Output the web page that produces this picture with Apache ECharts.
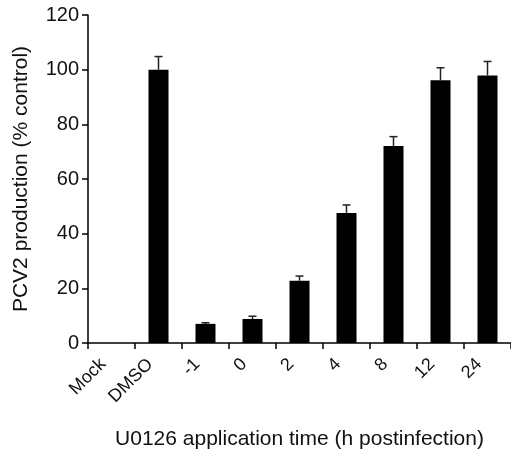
<!DOCTYPE html>
<html><head><meta charset="utf-8">
<script src="https://cdn.jsdelivr.net/npm/echarts@6/dist/echarts.min.js"></script>
<style>html,body{margin:0;padding:0;background:#fff}#c{width:511px;height:455px}</style>
</head><body><div id="c"></div>
<script>
const categories = ['Mock','DMSO','-1','0','2','4','8','12','24'];
const values = [0, 100, 7, 8.8, 22.8, 47.6, 72.1, 96.1, 97.9];
const errorTops = [null, 104.8, 7.4, 9.8, 24.5, 50.5, 75.5, 100.7, 103];
const yTicks = [0, 20, 40, 60, 80, 100, 120];

const font = '"Liberation Sans", Arial, sans-serif';
const chart = echarts.init(document.getElementById('c'));
const errData = categories.map((c, i) => errorTops[i] == null ? null : [i, values[i], errorTops[i]]).filter(d => d);
chart.setOption({
  animation: false,
  grid: { left: 88, right: 0, top: 15, bottom: 110, containLabel: false },
  xAxis: {
    type: 'category', data: categories,
    axisLine: { lineStyle: { color: '#000', width: 1.5 } },
    axisTick: { show: true, length: 6, lineStyle: { color: '#000', width: 1.5 } },
    axisLabel: { rotate: 45, color: '#111', fontFamily: font, fontSize: 18, margin: 10, interval: 0,
      padding: [0, 12, 0, 0] },
    name: 'U0126 application time (h postinfection)',
    nameLocation: 'middle', nameGap: 86,
    nameTextStyle: { color: '#111', fontFamily: font, fontSize: 21 }
  },
  yAxis: {
    type: 'value', min: 0, max: 120, interval: 20,
    axisLine: { show: true, lineStyle: { color: '#000', width: 1.5 } },
    axisTick: { show: true, length: 6, lineStyle: { color: '#000', width: 1.5 } },
    splitLine: { show: false },
    axisLabel: { color: '#111', fontFamily: font, fontSize: 20, margin: 9,
      formatter: v => yTicks.includes(v) ? String(v) : '' },
    name: 'PCV2 production (% control)',
    nameLocation: 'middle', nameGap: 56,
    nameTextStyle: { color: '#111', fontFamily: font, fontSize: 21 }
  },
  series: [
    { type: 'bar', data: values, barWidth: 20, itemStyle: { color: '#000' } },
    { type: 'custom', data: errData, z: 1,
      renderItem: (params, api) => {
        const x = api.value(0);
        const base = api.coord([x, api.value(1)]);
        const top = api.coord([x, api.value(2)]);
        const w = 4;
        const style = { stroke: '#222', lineWidth: 1.5 };
        return { type: 'group', children: [
          { type: 'line', shape: { x1: base[0], y1: base[1], x2: top[0], y2: top[1] }, style },
          { type: 'line', shape: { x1: top[0] - w, y1: top[1], x2: top[0] + w, y2: top[1] }, style }
        ]};
      }
    }
  ]
});
</script></body></html>
